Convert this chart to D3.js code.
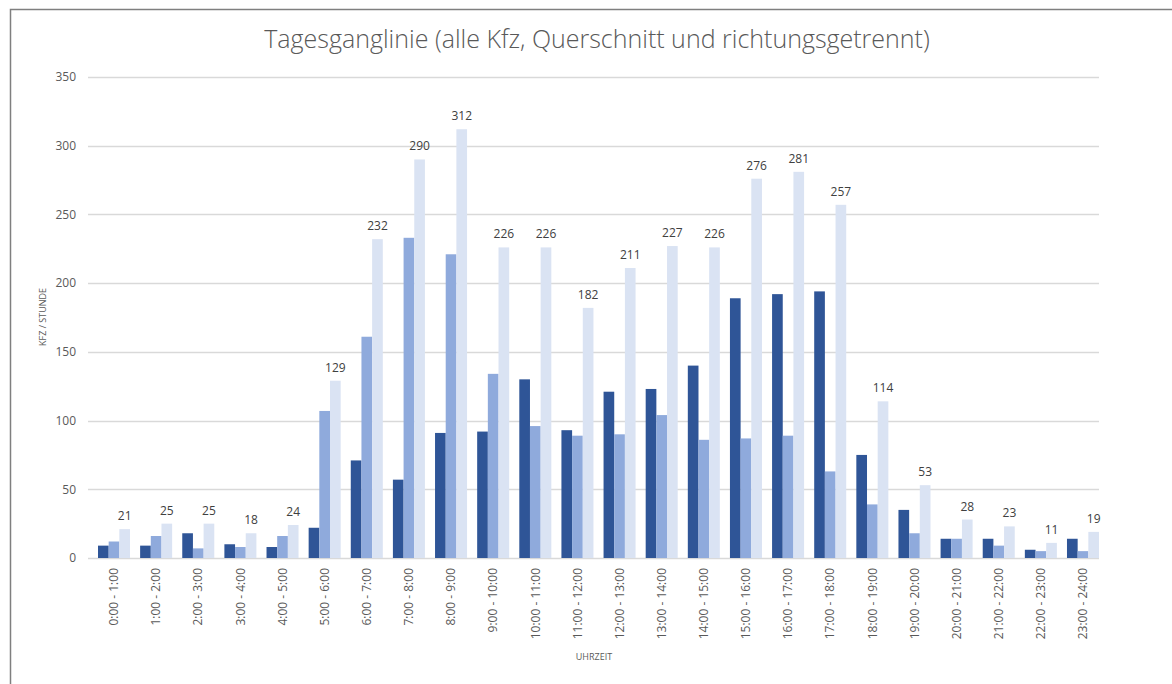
<!DOCTYPE html>
<html>
<head>
<meta charset="utf-8">
<title>Tagesganglinie</title>
<script src="https://d3js.org/d3.v7.min.js"></script>
<style>
  body { margin: 0; background: #fff; }
  text { font-family: "Open Sans", "Noto Sans", sans-serif; }
</style>
</head>
<body>
<script>
// Stundenintervalle
var hours = ["0:00 - 1:00", "1:00 - 2:00", "2:00 - 3:00", "3:00 - 4:00", "4:00 - 5:00",
  "5:00 - 6:00", "6:00 - 7:00", "7:00 - 8:00", "8:00 - 9:00", "9:00 - 10:00",
  "10:00 - 11:00", "11:00 - 12:00", "12:00 - 13:00", "13:00 - 14:00", "14:00 - 15:00",
  "15:00 - 16:00", "16:00 - 17:00", "17:00 - 18:00", "18:00 - 19:00", "19:00 - 20:00",
  "20:00 - 21:00", "21:00 - 22:00", "22:00 - 23:00", "23:00 - 24:00"];
var richtung1 = [9, 9, 18, 10, 8, 22, 71, 57, 91, 92, 130, 93, 121, 123, 140, 189, 192, 194, 75, 35, 14, 14, 6, 14];
var richtung2 = [12, 16, 7, 8, 16, 107, 161, 233, 221, 134, 96, 89, 90, 104, 86, 87, 89, 63, 39, 18, 14, 9, 5, 5];
var querschnitt = [21, 25, 25, 18, 24, 129, 232, 290, 312, 226, 226, 182, 211, 227, 226, 276, 281, 257, 114, 53, 28, 23, 11, 19];
var yTicks = [0, 50, 100, 150, 200, 250, 300, 350];

var series = [
  { key: "r1", values: richtung1, color: "#2F5597" },
  { key: "r2", values: richtung2, color: "#8FAADC" },
  { key: "qs", values: querschnitt, color: "#DAE3F3" }
];

var W = 1172, H = 684;
var pLeft = 88, pRight = 1099, pTop = 77, pBottom = 558;

var svg = d3.select("body").append("svg")
  .attr("width", W)
  .attr("height", H);

// Rahmen (oben + links)
svg.append("path")
  .attr("d", "M10.5," + H + " L10.5,9.5 L" + W + ",9.5")
  .attr("fill", "none")
  .attr("stroke", "#7f7f7f")
  .attr("stroke-width", 1.5);

var x = d3.scaleBand().domain(hours).range([98, 1099]).paddingInner(0.24).paddingOuter(0);
var xs = d3.scaleBand().domain(series.map(function (s) { return s.key; })).range([0, x.bandwidth()]);
var y = d3.scaleLinear().domain([0, 350]).range([pBottom, pTop]);

// Gitter
svg.append("g").selectAll("line")
  .data(yTicks)
  .enter().append("line")
  .attr("x1", pLeft).attr("x2", pRight)
  .attr("y1", function (d) { return Math.round(y(d)) + 0.5; })
  .attr("y2", function (d) { return Math.round(y(d)) + 0.5; })
  .attr("stroke", "#d9d9d9")
  .attr("stroke-width", 1.5);

// Y-Achse
var yAxis = svg.append("g")
  .attr("transform", "translate(" + (pLeft - 12) + ",0)")
  .call(d3.axisLeft(y).tickValues(yTicks).tickSize(0).tickPadding(0));
yAxis.select(".domain").remove();
yAxis.selectAll("text")
  .attr("fill", "#595959")
  .style("font-size", "12px");

// X-Achse
var xAxis = svg.append("g")
  .attr("transform", "translate(0," + pBottom + ")")
  .call(d3.axisBottom(x).tickSize(0).tickPadding(0));
xAxis.select(".domain").remove();
xAxis.selectAll("text")
  .attr("fill", "#595959")
  .style("font-size", "12px")
  .attr("text-anchor", "end")
  .attr("dy", "0.35em")
  .attr("transform", "translate(0,10) rotate(-90)");

// Balken
var groups = svg.append("g").selectAll("g")
  .data(series)
  .enter().append("g")
  .attr("fill", function (s) { return s.color; });

groups.selectAll("rect")
  .data(function (s) { return s.values.map(function (v, i) { return { key: s.key, hour: hours[i], v: v }; }); })
  .enter().append("rect")
  .attr("x", function (d) { return x(d.hour) + xs(d.key); })
  .attr("width", xs.bandwidth())
  .attr("y", function (d) { return y(d.v); })
  .attr("height", function (d) { return pBottom - y(d.v); });

// Werte (Querschnitt)
svg.append("g").selectAll("text")
  .data(querschnitt)
  .enter().append("text")
  .attr("x", function (d, i) { return x(hours[i]) + xs("qs") + xs.bandwidth() / 2; })
  .attr("y", function (d) { return y(d) - 9; })
  .attr("text-anchor", "middle")
  .attr("fill", "#404040")
  .style("font-size", "12px")
  .text(function (d) { return d; });

// Titel
svg.append("text")
  .attr("x", 597)
  .attr("y", 48)
  .attr("text-anchor", "middle")
  .attr("fill", "#595959")
  .style("font-size", "25px")
  .style("font-weight", 300)
  .text("Tagesganglinie (alle Kfz, Querschnitt und richtungsgetrennt)");

// Achsentitel
svg.append("text")
  .attr("transform", "translate(46,317) rotate(-90)")
  .attr("text-anchor", "middle")
  .attr("fill", "#595959")
  .style("font-size", "9px")
  .text("KFZ / STUNDE");

svg.append("text")
  .attr("x", 594)
  .attr("y", 660)
  .attr("text-anchor", "middle")
  .attr("fill", "#595959")
  .style("font-size", "9px")
  .text("UHRZEIT");
</script>
</body>
</html>
